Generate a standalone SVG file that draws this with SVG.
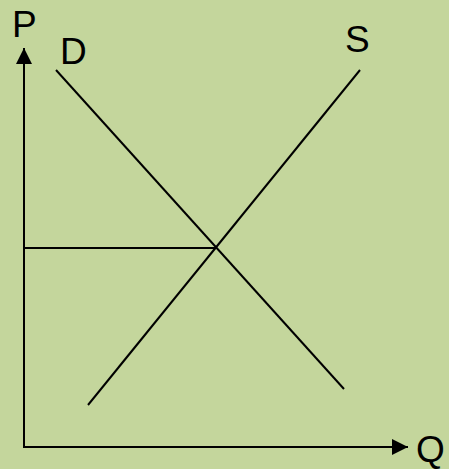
<svg xmlns="http://www.w3.org/2000/svg" width="449" height="469" viewBox="0 0 449 469">
<style>
.ln{stroke:#000;stroke-width:2;fill:none}
.lb{font-family:"Liberation Sans","Open Sans",sans-serif;font-size:37px;fill:#000}
</style>
<defs>
<marker id="arr" markerWidth="8" markerHeight="8" refX="8" refY="4" orient="auto" markerUnits="strokeWidth">
<path d="M0,0 L8,4 L0,8 Z" fill="#000"/>
</marker>
</defs>
<rect width="449" height="469" fill="#C4D69C"/>
<g id="connectors">
<path id="p-axis" class="ln" d="M24,447 L24,48" marker-end="url(#arr)"/>
<path id="q-axis" class="ln" d="M23,447 L408,447" marker-end="url(#arr)"/>
<path id="demand" class="ln" d="M56,70 L344,389"/>
<path id="supply" class="ln" d="M88,405 L360,70"/>
<path id="eq-price" class="ln" d="M24,248 L216,248"/>
</g>
<g id="label-P"><text class="lb" x="12" y="37">P</text></g>
<g id="label-D"><text class="lb" x="60" y="64">D</text></g>
<g id="label-S"><text class="lb" x="345" y="52">S</text></g>
<g id="label-Q"><text class="lb" x="416" y="462">Q</text></g>
</svg>
